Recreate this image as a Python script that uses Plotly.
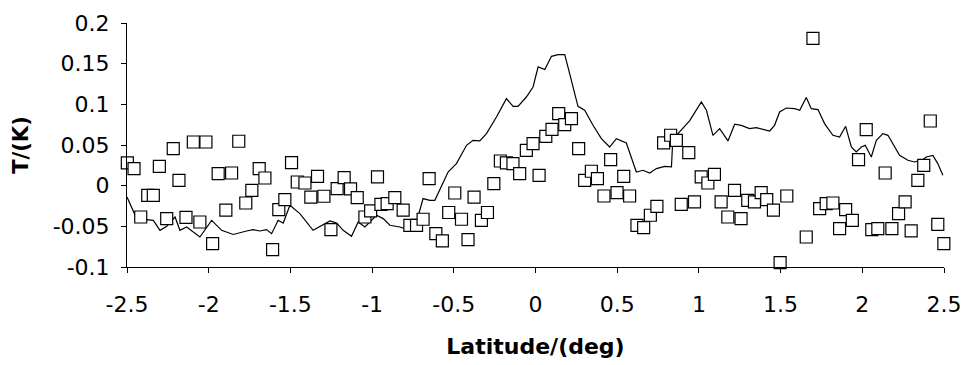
import plotly.graph_objects as go

# Scatter (squares): latitude (deg), T (K)
sq_lat = [-2.498, -2.457, -2.416, -2.373, -2.339, -2.302, -2.257, -2.217, -2.182, -2.139,
          -2.094, -2.054, -2.017, -1.976, -1.942, -1.895, -1.860, -1.816, -1.773, -1.736,
          -1.691, -1.656, -1.609, -1.571, -1.534, -1.493, -1.458, -1.411, -1.375, -1.334,
          -1.295, -1.252, -1.214, -1.171, -1.132, -1.091, -1.044, -1.009, -0.967, -0.946,
          -0.908, -0.861, -0.810, -0.769, -0.728, -0.688, -0.651, -0.610, -0.570, -0.531,
          -0.494, -0.453, -0.413, -0.376, -0.331, -0.294, -0.255, -0.215, -0.178, -0.138,
          -0.097, -0.056, -0.015, 0.022, 0.063, 0.101, 0.142, 0.179, 0.220, 0.264,
          0.301, 0.342, 0.379, 0.419, 0.460, 0.499, 0.540, 0.576, 0.621, 0.662,
          0.703, 0.743, 0.784, 0.827, 0.862, 0.892, 0.938, 0.973, 1.014, 1.055,
          1.095, 1.136, 1.177, 1.218, 1.258, 1.299, 1.340, 1.381, 1.415, 1.456,
          1.497, 1.538, 1.657, 1.698, 1.739, 1.779, 1.820, 1.861, 1.898, 1.939,
          1.977, 2.024, 2.058, 2.095, 2.140, 2.181, 2.222, 2.262, 2.299, 2.340,
          2.376, 2.416, 2.462, 2.499]
sq_T = [0.028, 0.021, -0.0385, -0.012, -0.012, 0.0238, -0.0405, 0.0456, 0.0066, -0.039,
        0.0537, -0.0447, 0.0537, -0.0712, 0.0148, -0.030, 0.0156, 0.0546, -0.0213, -0.0057,
        0.021, 0.0094, -0.0786, -0.0294, -0.0172, 0.0283, 0.0045, 0.0033, -0.014, 0.0115,
        -0.013, -0.054, -0.0036, 0.010, -0.004, -0.0147, -0.0385, -0.031, 0.0107, -0.023,
        -0.022, -0.0147, -0.030, -0.0487, -0.0487, -0.0413, 0.0087, -0.059, -0.068, -0.033,
        -0.009, -0.0413, -0.0663, -0.014, -0.0426, -0.033, 0.0025, 0.0303, 0.028, 0.0271,
        0.0148, 0.0435, 0.0517, 0.0127, 0.0607, 0.0693, 0.0886, 0.075, 0.0824, 0.0456,
        0.0066, 0.0177, 0.0087, -0.0127, 0.032, -0.0085, 0.0115, -0.0127, -0.0487, -0.0516,
        -0.0364, -0.0254, 0.0525, 0.062, 0.0558, -0.023, 0.0407, -0.020, 0.0107, 0.0033,
        0.014, -0.020, -0.0385, -0.0057, -0.0405, -0.018, -0.020, -0.0085, -0.0172, -0.030,
        -0.0946, -0.0127, -0.0631, 0.181, -0.0282, -0.022, -0.0213, -0.0528, -0.0294, -0.0426,
        0.032, 0.0689, -0.054, -0.0528, 0.0156, -0.0528, -0.0344, -0.020, -0.0557, 0.0066,
        0.025, 0.0795, -0.0475, -0.0712]

# Line series: latitude (deg), T (K)
ln_lat = [-2.500, -2.441, -2.339, -2.298, -2.257, -2.206, -2.176, -2.135, -2.054, -1.982,
          -1.921, -1.850, -1.768, -1.728, -1.687, -1.646, -1.615, -1.575, -1.544, -1.503,
          -1.442, -1.361, -1.258, -1.217, -1.177, -1.126, -1.085, -1.044, -0.973, -0.932,
          -0.891, -0.830, -0.769, -0.728, -0.688, -0.647, -0.616, -0.576, -0.535, -0.484,
          -0.422, -0.382, -0.341, -0.300, -0.239, -0.178, -0.137, -0.107, -0.056, -0.015,
          0.016, 0.057, 0.098, 0.138, 0.179, 0.209, 0.260, 0.301, 0.352, 0.403,
          0.454, 0.495, 0.556, 0.617, 0.658, 0.699, 0.740, 0.791, 0.832, 0.838,
          0.872, 0.944, 0.984, 1.015, 1.046, 1.086, 1.127, 1.178, 1.219, 1.259,
          1.310, 1.351, 1.433, 1.463, 1.494, 1.535, 1.586, 1.617, 1.657, 1.688,
          1.729, 1.769, 1.820, 1.861, 1.898, 1.933, 1.963, 1.994, 2.018, 2.055,
          2.086, 2.126, 2.157, 2.188, 2.228, 2.279, 2.320, 2.371, 2.391, 2.432,
          2.462, 2.493]
ln_T = [-0.014, -0.0405, -0.0426, -0.0549, -0.050, -0.0385, -0.0549, -0.0508, -0.0631, -0.0426,
        -0.0549, -0.060, -0.0557, -0.054, -0.0557, -0.054, -0.059, -0.0426, -0.046, -0.0241,
        -0.0344, -0.0549, -0.0434, -0.046, -0.0549, -0.0623, -0.0447, -0.0508, -0.0364, -0.0405,
        -0.0487, -0.0508, -0.0549, -0.0447, -0.0159, -0.018, -0.018, -0.0016, 0.0168, 0.0271,
        0.0496, 0.0558, 0.055, 0.064, 0.0844, 0.107, 0.0976, 0.0976, 0.109, 0.1213,
        0.146, 0.1427, 0.159, 0.161, 0.161, 0.1378, 0.0976, 0.0927, 0.0742, 0.0578,
        0.0475, 0.0578, 0.0525, 0.0168, 0.0189, 0.0156, 0.021, 0.0238, 0.023, 0.0475,
        0.064, 0.080, 0.0927, 0.1029, 0.0927, 0.0619, 0.0701, 0.055, 0.0755, 0.0742,
        0.0701, 0.0714, 0.0672, 0.0742, 0.0906, 0.0955, 0.0947, 0.0927, 0.1083, 0.0947,
        0.0935, 0.0763, 0.0619, 0.0598, 0.0730, 0.0475, 0.0414, 0.0475, 0.0496, 0.0353,
        0.0558, 0.064, 0.0619, 0.0517, 0.0373, 0.0312, 0.0291, 0.032, 0.0353, 0.0373,
        0.0271, 0.0127]

x_ticks = [-2.5, -2, -1.5, -1, -0.5, 0, 0.5, 1, 1.5, 2, 2.5]
x_ticktext = ["-2.5", "-2", "-1.5", "-1", "-0.5", "0", "0.5", "1", "1.5", "2", "2.5"]
y_ticks = [-0.1, -0.05, 0, 0.05, 0.1, 0.15, 0.2]
y_ticktext = ["-0.1", "-0.05", "0", "0.05", "0.1", "0.15", "0.2"]

fig = go.Figure()
fig.add_trace(go.Scatter(x=ln_lat, y=ln_T, mode="lines",
                         line=dict(color="black", width=1.2), showlegend=False,
                         cliponaxis=False))
fig.add_trace(go.Scatter(x=sq_lat, y=sq_T, mode="markers",
                         marker=dict(symbol="square", size=12, color="white",
                                     line=dict(color="black", width=1.2)),
                         showlegend=False, cliponaxis=False))

font_family = "DejaVu Sans"
fig.update_layout(
    width=968, height=365,
    margin=dict(l=127, r=24, t=23, b=98),
    plot_bgcolor="white", paper_bgcolor="white",
    font=dict(family=font_family, color="black", size=22),
)
fig.update_xaxes(
    range=[-2.5, 2.5], tickvals=x_ticks, ticktext=x_ticktext, automargin=False,
    showgrid=False, zeroline=False, showline=True, linecolor="black", linewidth=1,
    ticks="outside", ticklen=5, tickcolor="black", tickwidth=1,
    ticklabelstandoff=13,
    tickfont=dict(family=font_family, size=22),
    title=dict(text="<b>Latitude/(deg)</b>", font=dict(family=font_family, size=22),
               standoff=22),
)
fig.update_yaxes(
    range=[-0.1, 0.2], tickvals=y_ticks, ticktext=y_ticktext, automargin=False,
    showgrid=False, zeroline=False, showline=True, linecolor="black", linewidth=1,
    ticks="outside", ticklen=5, tickcolor="black", tickwidth=1,
    ticklabelstandoff=7,
    tickfont=dict(family=font_family, size=22),
    title=dict(text="<b>T/(K)</b>", font=dict(family=font_family, size=21),
               standoff=18),
)

fig.write_html("out.html")
